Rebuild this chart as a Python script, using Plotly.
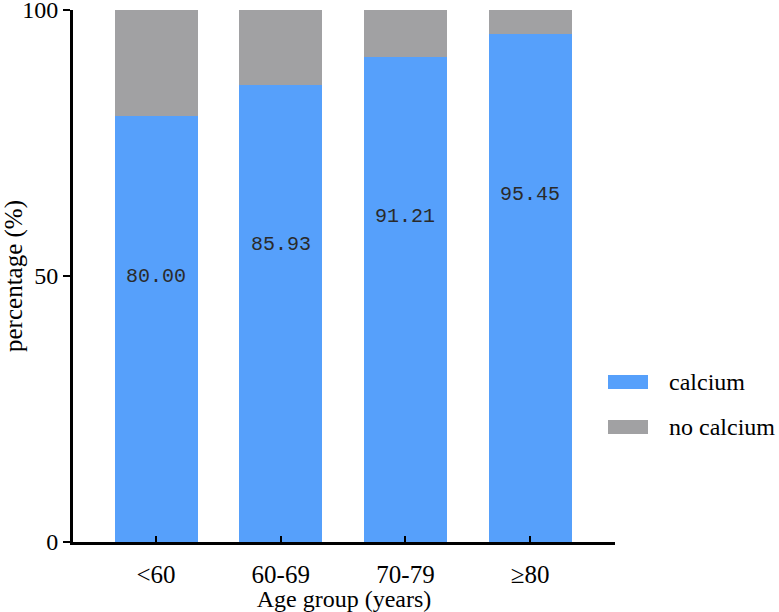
import plotly.graph_objects as go

# age groups and share (%) of patients with / without calcium
age_groups = ["<60", "60-69", "70-79", "≥80"]
calcium = [80.00, 85.93, 91.21, 95.45]
no_calcium = [20.00, 14.07, 8.79, 4.55]

blue = "#56A0FB"
grey = "#A1A1A3"
serif = "Liberation Serif, Times New Roman, serif"

fig = go.Figure()
fig.add_trace(go.Bar(x=age_groups, y=calcium, name="calcium", marker_color=blue,
                     marker_line_width=0, showlegend=False))
fig.add_trace(go.Bar(x=age_groups, y=no_calcium, name="no calcium", marker_color=grey,
                     marker_line_width=0, showlegend=False))

# value labels inside the blue bars
for g, v in zip(age_groups, calcium):
    fig.add_annotation(x=g, y=v, text=f"{v:.2f}", showarrow=False, yanchor="middle",
                       yshift=-160, font=dict(family="Liberation Mono, monospace", size=20, color="#2a2a2a"))

# hand-drawn legend at the right
legend_items = [("calcium", blue, 382), ("no calcium", grey, 427)]
for label, col, ypix in legend_items:
    yp = (612 - 70 - ypix) / (612 - 80)
    fig.add_shape(type="rect", xref="paper", yref="paper",
                  x0=(608 - 73) / 542, x1=(648 - 73) / 542,
                  y0=yp - 7 / 532, y1=yp + 7 / 532,
                  fillcolor=col, line_width=0)
    fig.add_annotation(xref="paper", yref="paper", x=(667 - 73) / 542, y=yp, text=label,
                       showarrow=False, xanchor="left", yanchor="middle",
                       font=dict(family=serif, size=24, color="black"))

fig.update_layout(
    barmode="stack",
    bargap=0.334,
    width=779, height=612,
    margin=dict(l=73, r=164, t=10, b=70, autoexpand=False),
    plot_bgcolor="white", paper_bgcolor="white",
    font=dict(family=serif, size=24, color="black"),
)
fig.update_xaxes(
    range=[-0.666, 3.68], showline=True, linecolor="black", linewidth=3,
    ticks="inside", ticklen=6, tickwidth=2, tickcolor="black",
    showgrid=False, zeroline=False, automargin=False,
    ticklabelstandoff=8,
    title=dict(text="Age group (years)", font=dict(size=24), standoff=0),
    tickfont=dict(size=25),
)
fig.update_yaxes(
    range=[0, 100], tickvals=[0, 50, 100], showline=True, linecolor="black", linewidth=3,
    ticks="outside", ticklen=7, tickwidth=2, tickcolor="black",
    showgrid=False, zeroline=False, automargin=False, ticklabeloverflow="allow",
    title=dict(text="percentage (%)", font=dict(size=25), standoff=6),
    tickfont=dict(size=24),
)

# page body has an 8px default margin; drop it so the figure fills the window
fig.write_html("out.html", config={"displayModeBar": False},
               post_script="document.body.style.margin='0';")
